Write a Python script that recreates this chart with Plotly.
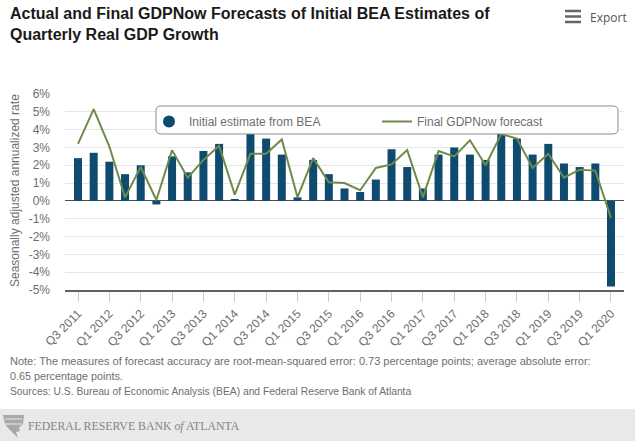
import plotly.graph_objects as go

# quarters Q3 2011 - Q1 2020
quarters = ['Q3 2011', 'Q4 2011', 'Q1 2012', 'Q2 2012', 'Q3 2012', 'Q4 2012', 'Q1 2013', 'Q2 2013',
            'Q3 2013', 'Q4 2013', 'Q1 2014', 'Q2 2014', 'Q3 2014', 'Q4 2014', 'Q1 2015', 'Q2 2015',
            'Q3 2015', 'Q4 2015', 'Q1 2016', 'Q2 2016', 'Q3 2016', 'Q4 2016', 'Q1 2017', 'Q2 2017',
            'Q3 2017', 'Q4 2017', 'Q1 2018', 'Q2 2018', 'Q3 2018', 'Q4 2018', 'Q1 2019', 'Q2 2019',
            'Q3 2019', 'Q4 2019', 'Q1 2020']
bea_initial = [2.4, 2.7, 2.2, 1.5, 2.0, -0.2, 2.5, 1.6, 2.8, 3.2, 0.1, 4.0, 3.5, 2.6, 0.2, 2.3,
               1.5, 0.7, 0.5, 1.2, 2.9, 1.9, 0.7, 2.6, 3.0, 2.6, 2.3, 4.1, 3.5, 2.6, 3.2, 2.1,
               1.9, 2.1, -4.8]
gdpnow_final = [3.2, 5.15, 3.05, 0.2, 1.9, 0.05, 2.85, 1.3, 2.3, 3.1, 0.35, 2.65, 2.65, 3.45, 0.2, 2.4,
                1.05, 1.0, 0.6, 1.85, 2.05, 2.85, 0.2, 2.8, 2.5, 3.4, 2.0, 3.75, 3.5, 1.85, 2.65, 1.3,
                1.75, 1.7, -0.95]
y_ticks = [-5, -4, -3, -2, -1, 0, 1, 2, 3, 4, 5, 6]

BLUE = '#0f4a6f'
GREEN = '#6f8b4b'
TEXT = '#6e6e6e'
FONT = 'Liberation Sans, Arial, sans-serif'

fig = go.Figure()

fig.add_trace(go.Bar(x=quarters, y=bea_initial, marker=dict(color=BLUE, line_width=0),
                     showlegend=False, name='Initial estimate from BEA'))
# bars show a square in the legend, the original has a dot
fig.add_trace(go.Scatter(x=[None], y=[None], mode='markers', name='Initial estimate from BEA',
                         marker=dict(color=BLUE, size=12)))
fig.add_trace(go.Scatter(x=quarters, y=gdpnow_final, mode='lines', name='Final GDPNow forecast',
                         line=dict(color=GREEN, width=2)))

fig.update_layout(
    width=635, height=441,
    margin=dict(l=65, r=11, t=94, b=151),
    paper_bgcolor='white', plot_bgcolor='white',
    bargap=0.49,
    font=dict(family=FONT, color=TEXT, size=12),
    title=dict(text='Actual and Final GDPNow Forecasts of Initial BEA Estimates of<br>Quarterly Real GDP Growth',
               font=dict(family=FONT, size=16, color='#1a1a1a', weight='bold'),
               x=10 / 635, xanchor='left', y=1 - 19 / 441, yanchor='top'),
    legend=dict(orientation='h', x=(149 - 65) / 559, xanchor='left', y=1 - (107 - 94) / 196, yanchor='top',
                bgcolor='rgba(0,0,0,0)', font=dict(size=12, color=TEXT),
                entrywidth=183, entrywidthmode='pixels', traceorder='normal'),
    xaxis=dict(type='category', range=[-0.83, 34.83], tickangle=-45,
               tickmode='array', tickvals=quarters[::2], ticktext=quarters[::2],
               ticks='outside', ticklen=10, tickcolor='#cccccc',
               showgrid=False, showline=True, linecolor='#6b5f55', linewidth=2,
               tickfont=dict(size=12, color=TEXT)),
    yaxis=dict(range=[-5, 6], tickmode='array', tickvals=y_ticks, ticktext=[f'{v}%' for v in y_ticks],
               gridcolor='#e6e6e6', gridwidth=1, zeroline=True, zerolinecolor='#4a5258', zerolinewidth=1,
               ticks='', ticklabelstandoff=14, showline=False,
               tickfont=dict(size=12, color=TEXT)),
)


def px_path(d):
    # path given in page pixels -> paper coordinates
    out = []
    for tok in d.split():
        cmd = tok[0] if tok[0].isalpha() else ''
        nums = tok[len(cmd):]
        if nums:
            a, b = nums.split(',')
            out.append(f'{cmd}{(float(a) - 65) / 559:.5f},{1 - (float(b) - 94) / 196:.5f}')
        else:
            out.append(cmd)
    return ' '.join(out)


# rounded legend box, white so it hides what runs behind it
x0, x1, y0, y1, r = 156, 618, 106, 134, 5
box = (f'M{x0 + r},{y0} L{x1 - r},{y0} Q{x1},{y0} {x1},{y0 + r} L{x1},{y1 - r} Q{x1},{y1} {x1 - r},{y1} '
       f'L{x0 + r},{y1} Q{x0},{y1} {x0},{y1 - r} L{x0},{y0 + r} Q{x0},{y0} {x0 + r},{y0} Z')
fig.add_shape(type='path', xref='paper', yref='paper', path=px_path(box), layer='above',
              fillcolor='white', line=dict(color='#8c8c8c', width=1))

# footer band
fig.add_shape(type='rect', xref='paper', yref='paper', x0=-65 / 559, x1=1 + 11 / 559,
              y0=1 - (441 - 94) / 196, y1=1 - (409 - 94) / 196, layer='below',
              fillcolor='#e9e9e9', line_width=0)
# seal in the footer
seal = 'M3,415 L24,415 L23,424 L19,428 L20,431 L16,432 L18,438 L12,432 L8,428 L5,424 Z'
fig.add_shape(type='path', xref='paper', yref='paper', path=px_path(seal),
              fillcolor='#a9a9a9', line_width=0)
for yy in [419, 424]:
    fig.add_shape(type='line', xref='paper', yref='paper',
                  x0=(5 - 65) / 559, x1=(22 - 65) / 559,
                  y0=1 - (yy - 94) / 196, y1=1 - (yy - 94) / 196,
                  line=dict(color='#e9e9e9', width=1))

# export menu icon
for yy in [11, 16.5, 22]:
    fig.add_shape(type='line', xref='paper', yref='paper',
                  x0=(565 - 65) / 559, x1=(581 - 65) / 559,
                  y0=1 - (yy - 94) / 196, y1=1 - (yy - 94) / 196,
                  line=dict(color='#666666', width=2.5))


def page_text(txt, x, y, size=10.5, color=TEXT, family=FONT):
    fig.add_annotation(text=txt, xref='paper', yref='paper', showarrow=False,
                       x=(x - 65) / 559, y=1 - (y - 94) / 196, xanchor='left', yanchor='middle',
                       font=dict(size=size, color=color, family=family))


fig.add_annotation(text='Seasonally adjusted annualized rate', xref='paper', yref='paper', showarrow=False,
                   x=(15 - 65) / 559, xanchor='center', y=1 - (191 - 94) / 196, textangle=-90,
                   font=dict(size=12, color=TEXT))
page_text('Note: The measures of forecast accuracy are root-mean-squared error: 0.73 percentage points; '
          'average absolute error:', 8, 361, size=11)
page_text('0.65 percentage points.', 8, 376, size=10.8)
page_text('Sources: U.S. Bureau of Economic Analysis (BEA) and Federal Reserve Bank of Atlanta', 8, 391, size=10.3)
page_text('Export', 588, 17, size=12, color='#555555', family='Open Sans')
page_text('FEDERAL RESERVE BANK <i>of</i> ATLANTA', 26, 426, size=11.8, color='#858585',
          family='Liberation Serif, serif')

fig.write_html("out.html", config=dict(displayModeBar=False),
               post_script="document.body.style.margin='0';")
